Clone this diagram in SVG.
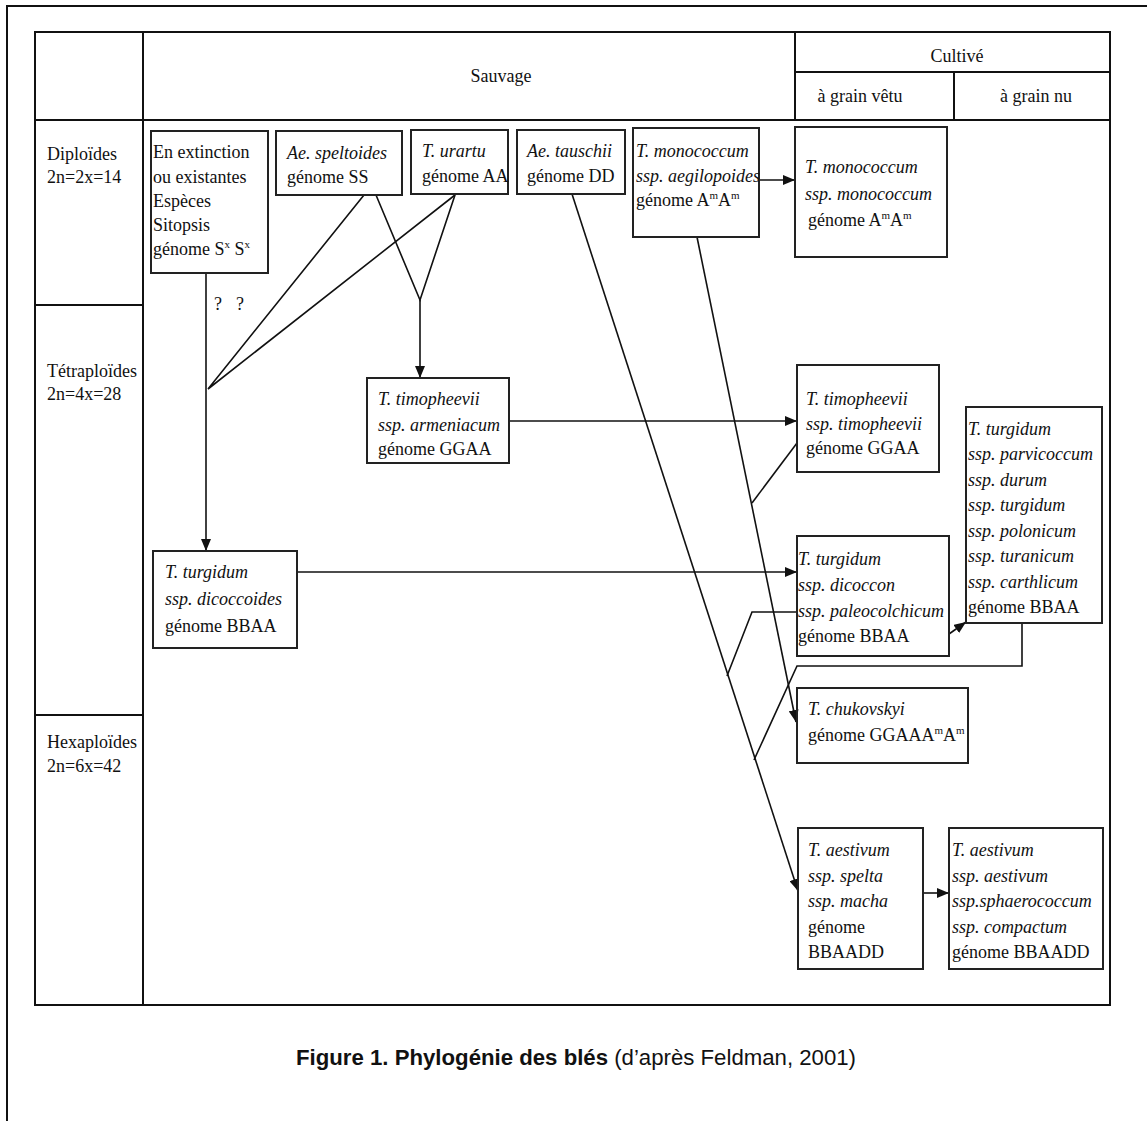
<svg xmlns="http://www.w3.org/2000/svg" width="1147" height="1121" viewBox="0 0 1147 1121">
<style>
text{font-family:"Liberation Serif","Times New Roman",serif;font-size:18px;fill:#111}
.i{font-style:italic}
.frame{fill:none;stroke:#111;stroke-width:2}
.box{fill:none;stroke:#222;stroke-width:2}
.c{fill:none;stroke:#111;stroke-width:1.6}
.cap{font-family:"Liberation Sans",Arial,sans-serif;font-size:22px}
.sup{font-size:11px}
</style>
<defs>
<marker id="ah" markerWidth="12" markerHeight="10" refX="12" refY="5" orient="auto" markerUnits="userSpaceOnUse"><path d="M0,0 L12,5 L0,10 z" fill="#111"/></marker>
</defs>
<rect width="1147" height="1121" fill="#fff"/>
<g id="page-frame">
<path class="frame" d="M7,1121 V6 H1147"/>
</g>
<g id="table">
<rect class="frame" x="35" y="32" width="1075" height="973"/>
<path class="frame" d="M35,120 H1110 M143,32 V1005 M795,32 V120 M795,72 H1110 M954,72 V120 M35,305 H143 M35,715 H143"/>
<text x="501" y="82" text-anchor="middle">Sauvage</text>
<text x="957" y="62" text-anchor="middle">Cultivé</text>
<text x="860" y="102" text-anchor="middle">à grain vêtu</text>
<text x="1036" y="102" text-anchor="middle">à grain nu</text>
<text x="47" y="160">Diploïdes</text>
<text x="47" y="183">2n=2x=14</text>
<text x="47" y="377">Tétraploïdes</text>
<text x="47" y="400">2n=4x=28</text>
<text x="47" y="748">Hexaploïdes</text>
<text x="47" y="772">2n=6x=42</text>
</g>
<g id="connectors">
<path class="c" d="M206,273 V551" marker-end="url(#ah)"/>
<text x="214" y="310" font-size="16">?</text>
<text x="236" y="310" font-size="16">?</text>
<path class="c" d="M364,195 L208,389 L455,195"/>
<path class="c" d="M376,195 L420,300 L455,195"/>
<path class="c" d="M420,300 V378" marker-end="url(#ah)"/>
<path class="c" d="M509,421 H797" marker-end="url(#ah)"/>
<path class="c" d="M297,572 H797" marker-end="url(#ah)"/>
<path class="c" d="M759,180 H795" marker-end="url(#ah)"/>
<path class="c" d="M572,194 L798,891" marker-end="url(#ah)"/>
<path class="c" d="M697,237 L796,722" marker-end="url(#ah)"/>
<path class="c" d="M797,443 L752,503"/>
<path class="c" d="M797,612 H752 L727,676"/>
<path class="c" d="M1022,623 V666 H797 L754,760"/>
<path class="c" d="M949,634 L966,622" marker-end="url(#ah)"/>
<path class="c" d="M923,893 H949" marker-end="url(#ah)"/>
</g>
<g id="n-sitopsis">
<rect class="box" x="151" y="131" width="117" height="142"/>
<text x="153" y="158">En extinction</text>
<text x="153" y="183">ou existantes</text>
<text x="153" y="207">Espèces</text>
<text x="153" y="231">Sitopsis</text>
<text x="153" y="255">génome S<tspan class="sup" dy="-7">x</tspan><tspan dy="7"> S</tspan><tspan class="sup" dy="-7">x</tspan></text>
</g>
<g id="n-speltoides">
<rect class="box" x="276" y="131" width="126" height="64"/>
<text class="i" x="287" y="159">Ae. speltoides</text>
<text x="287" y="183">génome SS</text>
</g>
<g id="n-urartu">
<rect class="box" x="411" y="130" width="97" height="64"/>
<text class="i" x="422" y="157">T. urartu</text>
<text x="422" y="182">génome AA</text>
</g>
<g id="n-tauschii">
<rect class="box" x="517" y="130" width="108" height="64"/>
<text class="i" x="527" y="157">Ae. tauschii</text>
<text x="527" y="182">génome DD</text>
</g>
<g id="n-aegilopoides">
<rect class="box" x="633" y="128" width="126" height="109"/>
<text class="i" x="636" y="157">T. monococcum</text>
<text class="i" x="636" y="182">ssp. aegilopoides</text>
<text x="636" y="206">génome A<tspan class="sup" dy="-7">m</tspan><tspan dy="7">A</tspan><tspan class="sup" dy="-7">m</tspan></text>
</g>
<g id="n-monococcum">
<rect class="box" x="795" y="127" width="152" height="130"/>
<text class="i" x="805" y="173">T. monococcum</text>
<text class="i" x="805" y="200">ssp. monococcum</text>
<text x="808" y="226">génome  A<tspan class="sup" dy="-7">m</tspan><tspan dy="7">A</tspan><tspan class="sup" dy="-7">m</tspan></text>
</g>
<g id="n-armeniacum">
<rect class="box" x="367" y="378" width="142" height="85"/>
<text class="i" x="378" y="405">T. timopheevii</text>
<text class="i" x="378" y="431">ssp. armeniacum</text>
<text x="378" y="455">génome GGAA</text>
</g>
<g id="n-timopheevii">
<rect class="box" x="797" y="365" width="142" height="107"/>
<text class="i" x="806" y="405">T. timopheevii</text>
<text class="i" x="806" y="430">ssp. timopheevii</text>
<text x="806" y="454">génome GGAA</text>
</g>
<g id="n-durum">
<rect class="box" x="966" y="407" width="136" height="216"/>
<text class="i" x="968" y="435">T. turgidum</text>
<text class="i" x="968" y="460">ssp. parvicoccum</text>
<text class="i" x="968" y="486">ssp. durum</text>
<text class="i" x="968" y="511">ssp. turgidum</text>
<text class="i" x="968" y="537">ssp. polonicum</text>
<text class="i" x="968" y="562">ssp. turanicum</text>
<text class="i" x="968" y="588">ssp. carthlicum</text>
<text x="968" y="613">génome BBAA</text>
</g>
<g id="n-dicoccon">
<rect class="box" x="797" y="536" width="152" height="120"/>
<text class="i" x="798" y="565">T. turgidum</text>
<text class="i" x="798" y="591">ssp. dicoccon</text>
<text class="i" x="798" y="617">ssp. paleocolchicum</text>
<text x="798" y="642">génome BBAA</text>
</g>
<g id="n-dicoccoides">
<rect class="box" x="153" y="551" width="144" height="97"/>
<text class="i" x="165" y="578">T. turgidum</text>
<text class="i" x="165" y="605">ssp. dicoccoides</text>
<text x="165" y="632">génome BBAA</text>
</g>
<g id="n-chukovskyi">
<rect class="box" x="797" y="688" width="171" height="75"/>
<text class="i" x="808" y="715">T. chukovskyi</text>
<text x="808" y="741">génome GGAAA<tspan class="sup" dy="-7">m</tspan><tspan dy="7">A</tspan><tspan class="sup" dy="-7">m</tspan></text>
</g>
<g id="n-spelta">
<rect class="box" x="798" y="828" width="125" height="141"/>
<text class="i" x="808" y="856">T. aestivum</text>
<text class="i" x="808" y="882">ssp. spelta</text>
<text class="i" x="808" y="907">ssp. macha</text>
<text x="808" y="933">génome</text>
<text x="808" y="958">BBAADD</text>
</g>
<g id="n-aestivum">
<rect class="box" x="949" y="828" width="154" height="141"/>
<text class="i" x="952" y="856">T. aestivum</text>
<text class="i" x="952" y="882">ssp. aestivum</text>
<text class="i" x="952" y="907">ssp.sphaerococcum</text>
<text class="i" x="952" y="933">ssp. compactum</text>
<text x="952" y="958">génome BBAADD</text>
</g>
<g id="caption">
<text class="cap" x="296" y="1065" textLength="560" lengthAdjust="spacingAndGlyphs"><tspan font-weight="bold">Figure 1. Phylogénie des blés</tspan> (d’après Feldman, 2001)</text>
</g>
</svg>
